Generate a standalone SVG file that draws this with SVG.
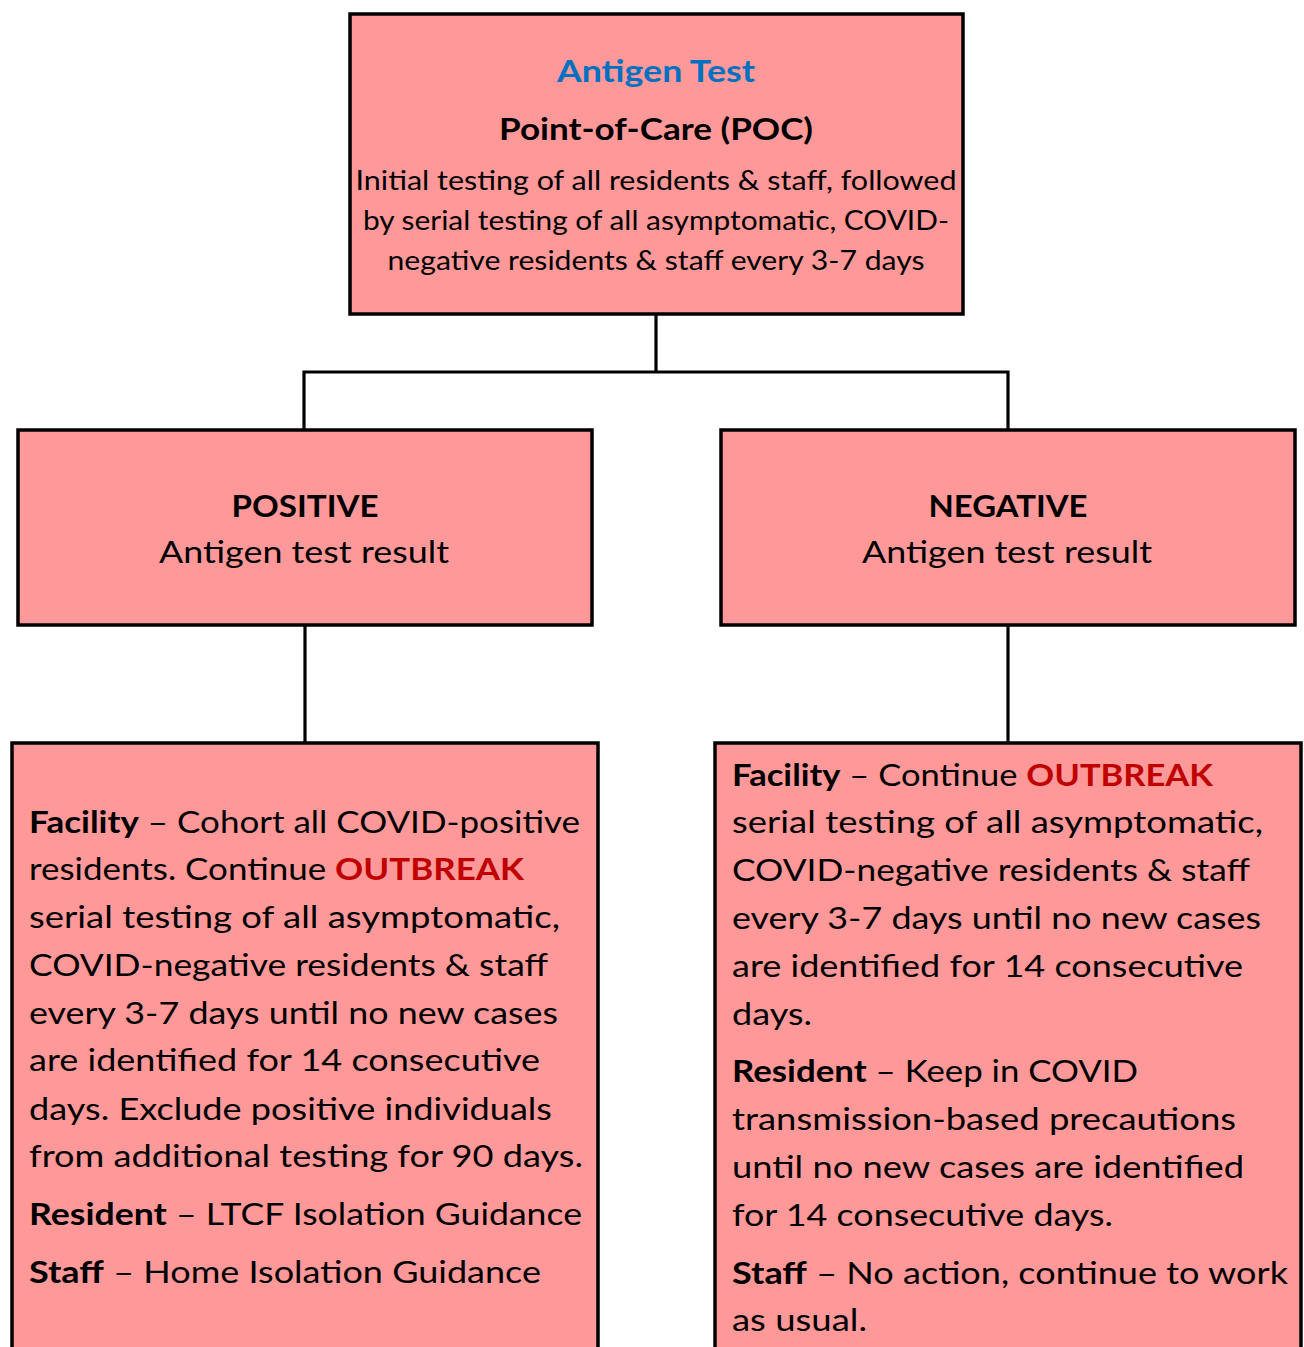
<svg xmlns="http://www.w3.org/2000/svg" width="1304" height="1347" viewBox="0 0 1304 1347">
<style>
.box{fill:#FF9999;stroke:#000;stroke-width:3.5}
.conn{fill:none;stroke:#000;stroke-width:3.2}
text{font-family:Lato,"Open Sans","Liberation Sans",sans-serif;fill:#000}
.b{font-weight:bold}
.t{font-size:30px}
.s{font-size:26px}
.m{font-size:30.5px}
.blue{fill:#0070C0}
.red{fill:#C00000;font-weight:bold}
</style>
<rect width="1304" height="1347" fill="#fff"/>
<g id="connectors">
<path class="conn" d="M656 314 V372 M304 372 H1008 M304 370.5 V430 M1008 370.5 V430 M305 626 V743 M1008 626 V743"/>
</g>
<g id="node-top">
<rect class="box" x="350" y="14" width="613" height="300"/>
<text class="t b blue" x="656" y="82" text-anchor="middle" textLength="198" lengthAdjust="spacingAndGlyphs">Antigen Test</text>
<text class="t b" x="656" y="140" text-anchor="middle" textLength="314" lengthAdjust="spacingAndGlyphs">Point-of-Care (POC)</text>
<text class="s" x="656" y="190" text-anchor="middle" textLength="601" lengthAdjust="spacingAndGlyphs">Initial testing of all residents &amp; staff, followed</text>
<text class="s" x="656" y="230" text-anchor="middle" textLength="586" lengthAdjust="spacingAndGlyphs">by serial testing of all asymptomatic, COVID-</text>
<text class="s" x="656" y="270" text-anchor="middle" textLength="537" lengthAdjust="spacingAndGlyphs">negative residents &amp; staff every 3-7 days</text>
</g>
<g id="node-positive">
<rect class="box" x="18" y="430" width="574" height="195"/>
<text class="m b" x="305" y="517" text-anchor="middle" textLength="147" lengthAdjust="spacingAndGlyphs">POSITIVE</text>
<text class="m" x="304" y="563" text-anchor="middle" textLength="290" lengthAdjust="spacingAndGlyphs">Antigen test result</text>
</g>
<g id="node-negative">
<rect class="box" x="721" y="430" width="574" height="195"/>
<text class="m b" x="1008" y="517" text-anchor="middle" textLength="159" lengthAdjust="spacingAndGlyphs">NEGATIVE</text>
<text class="m" x="1007" y="563" text-anchor="middle" textLength="290" lengthAdjust="spacingAndGlyphs">Antigen test result</text>
</g>
<g id="node-positive-action">
<rect class="box" x="12" y="743" width="586" height="700"/>
<text class="m" x="29" y="833" textLength="551" lengthAdjust="spacingAndGlyphs"><tspan class="b">Facility</tspan> – Cohort all COVID-positive</text>
<text class="m" x="29" y="880" textLength="495" lengthAdjust="spacingAndGlyphs">residents. Continue <tspan class="red">OUTBREAK</tspan></text>
<text class="m" x="29" y="928" textLength="531" lengthAdjust="spacingAndGlyphs">serial testing of all asymptomatic,</text>
<text class="m" x="29" y="976" textLength="519" lengthAdjust="spacingAndGlyphs">COVID-negative residents &amp; staff</text>
<text class="m" x="29" y="1024" textLength="529" lengthAdjust="spacingAndGlyphs">every 3-7 days until no new cases</text>
<text class="m" x="29" y="1071" textLength="511" lengthAdjust="spacingAndGlyphs">are identified for 14 consecutive</text>
<text class="m" x="29" y="1120" textLength="523" lengthAdjust="spacingAndGlyphs">days. Exclude positive individuals</text>
<text class="m" x="29" y="1167" textLength="554" lengthAdjust="spacingAndGlyphs">from additional testing for 90 days.</text>
<text class="m" x="29" y="1225" textLength="553" lengthAdjust="spacingAndGlyphs"><tspan class="b">Resident</tspan> – LTCF Isolation Guidance</text>
<text class="m" x="29" y="1283" textLength="512" lengthAdjust="spacingAndGlyphs"><tspan class="b">Staff</tspan> – Home Isolation Guidance</text>
</g>
<g id="node-negative-action">
<rect class="box" x="715" y="743" width="586" height="700"/>
<text class="m" x="732" y="786" textLength="481" lengthAdjust="spacingAndGlyphs"><tspan class="b">Facility</tspan> – Continue <tspan class="red">OUTBREAK</tspan></text>
<text class="m" x="732" y="833" textLength="531" lengthAdjust="spacingAndGlyphs">serial testing of all asymptomatic,</text>
<text class="m" x="732" y="881" textLength="518" lengthAdjust="spacingAndGlyphs">COVID-negative residents &amp; staff</text>
<text class="m" x="732" y="929" textLength="529" lengthAdjust="spacingAndGlyphs">every 3-7 days until no new cases</text>
<text class="m" x="732" y="977" textLength="511" lengthAdjust="spacingAndGlyphs">are identified for 14 consecutive</text>
<text class="m" x="732" y="1025" textLength="80" lengthAdjust="spacingAndGlyphs">days.</text>
<text class="m" x="732" y="1082" textLength="406" lengthAdjust="spacingAndGlyphs"><tspan class="b">Resident</tspan> – Keep in COVID</text>
<text class="m" x="732" y="1130" textLength="504" lengthAdjust="spacingAndGlyphs">transmission-based precautions</text>
<text class="m" x="732" y="1178" textLength="512" lengthAdjust="spacingAndGlyphs">until no new cases are identified</text>
<text class="m" x="732" y="1226" textLength="381" lengthAdjust="spacingAndGlyphs">for 14 consecutive days.</text>
<text class="m" x="732" y="1284" textLength="556" lengthAdjust="spacingAndGlyphs"><tspan class="b">Staff</tspan> – No action, continue to work</text>
<text class="m" x="732" y="1331" textLength="135" lengthAdjust="spacingAndGlyphs">as usual.</text>
</g>
</svg>
